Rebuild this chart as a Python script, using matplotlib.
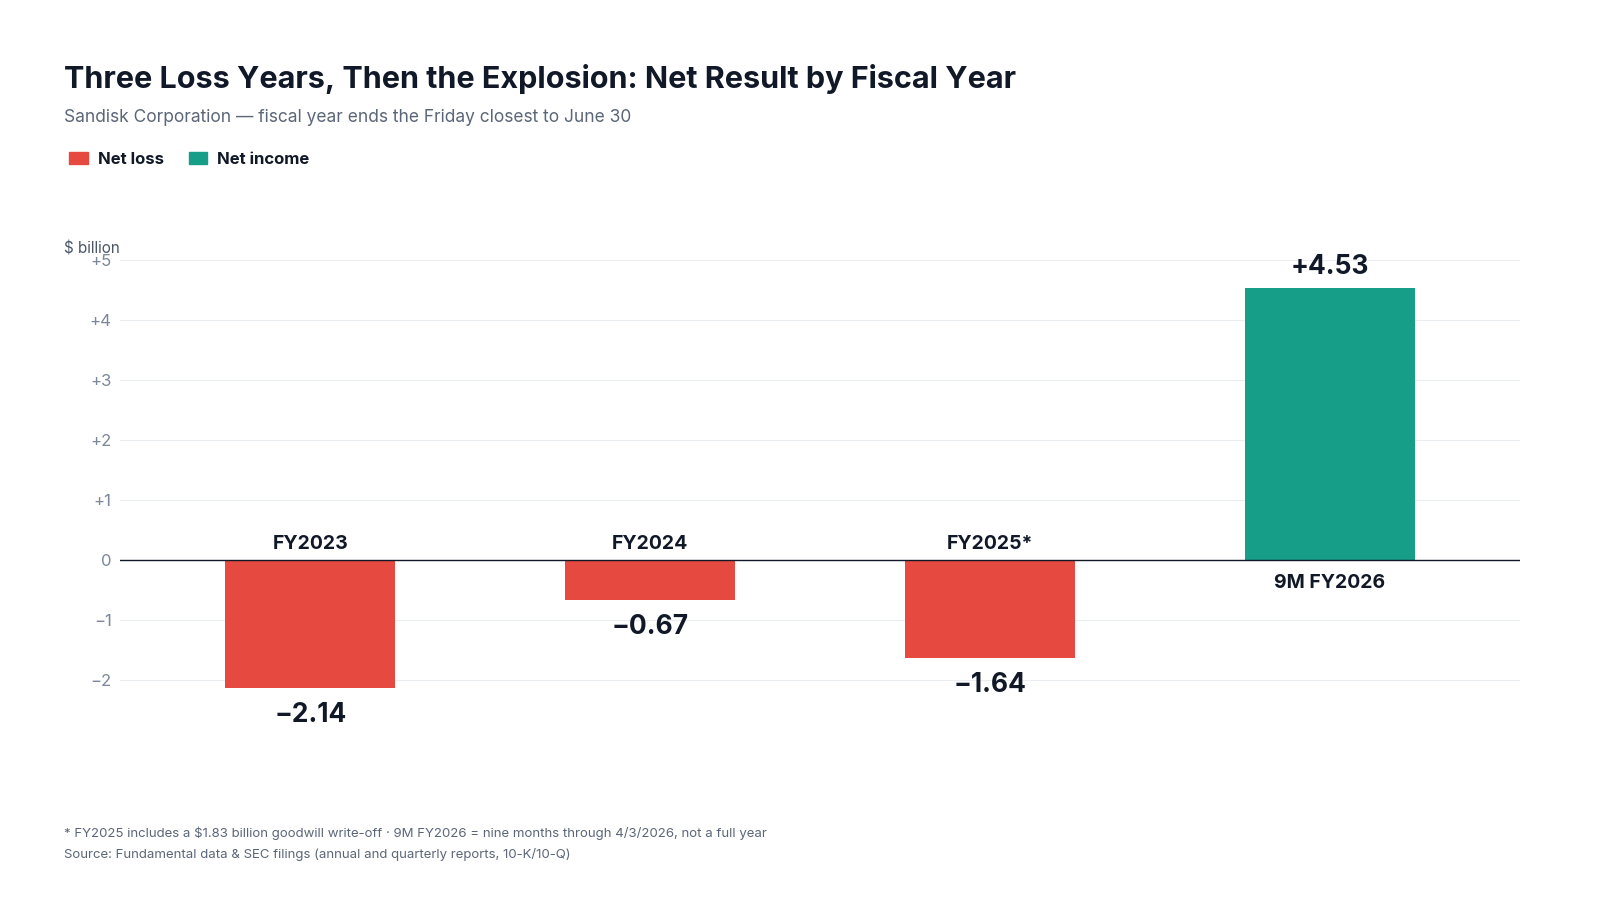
import matplotlib.pyplot as plt
from matplotlib.patches import Patch

plt.rcParams['font.family'] = ['Inter', 'DejaVu Sans']

categories = ["FY2023", "FY2024", "FY2025*", "9M FY2026"]
values = [-2.14, -0.67, -1.64, 4.53]
yticks = [-2, -1, 0, 1, 2, 3, 4, 5]
ytick_labels = ["\u22122", "\u22121", "0", "+1", "+2", "+3", "+4", "+5"]

RED = "#e5493f"
GREEN = "#169e88"
DARK = "#111827"
GREY = "#7c8799"

fig = plt.figure(figsize=(16, 9), dpi=100)
ax = fig.add_axes([0.075, 0.205, 0.875, 0.506])

x = range(len(categories))
colors = [RED if v < 0 else GREEN for v in values]
ax.bar(x, values, width=0.5, color=colors, zorder=3)
ax.set_xlim(-0.56, 3.56)
ax.set_ylim(-2.6, 5)
ax.axhline(0, color=DARK, lw=1, zorder=4)

for i, v in enumerate(values):
    vs = ("+%.2f" % v) if v > 0 else ("\u2212%.2f" % abs(v))
    if v < 0:
        ax.annotate(categories[i], (i, 0), xytext=(0, 5), textcoords="offset points",
                    ha="center", va="bottom", fontsize=14, fontweight="bold", color=DARK)
        ax.annotate(vs, (i, v), xytext=(0, -10), textcoords="offset points",
                    ha="center", va="top", fontsize=19, fontweight="bold", color=DARK,
                    annotation_clip=False)
    else:
        ax.annotate(categories[i], (i, 0), xytext=(0, -10), textcoords="offset points",
                    ha="center", va="top", fontsize=14, fontweight="bold", color=DARK)
        ax.annotate(vs, (i, v), xytext=(0, 6), textcoords="offset points",
                    ha="center", va="bottom", fontsize=19, fontweight="bold", color=DARK)

ax.set_yticks(yticks)
ax.set_yticklabels(ytick_labels, fontsize=12, color=GREY)
ax.set_xticks([])
ax.tick_params(axis="y", length=0, pad=6)
ax.grid(axis="y", color="#ebedf0", lw=0.8, zorder=0)
for s in ax.spines.values():
    s.set_visible(False)

fig.text(0.04, 0.718, "$ billion", fontsize=11, color="#4b5568")
fig.text(0.04, 0.902, "Three Loss Years, Then the Explosion: Net Result by Fiscal Year",
         fontsize=22, fontweight="bold", color=DARK)
fig.text(0.04, 0.865, "Sandisk Corporation \u2014 fiscal year ends the Friday closest to June 30",
         fontsize=12.5, color="#5b6678")
leg = fig.legend(handles=[Patch(color=RED, label="Net loss"), Patch(color=GREEN, label="Net income")],
                 loc="upper left", bbox_to_anchor=(0.034, 0.848), ncol=2, frameon=False,
                 handlelength=1.1, handleheight=0.7, columnspacing=1.5, handletextpad=0.6,
                 prop={"size": 12, "weight": "bold"})
for t in leg.get_texts():
    t.set_color(DARK)
fig.text(0.04, 0.07, "* FY2025 includes a $1.83 billion goodwill write-off \u00b7 9M FY2026 = nine months through 4/3/2026, not a full year",
         fontsize=9.5, color="#5b6678")
fig.text(0.04, 0.047, "Source: Fundamental data & SEC filings (annual and quarterly reports, 10-K/10-Q)",
         fontsize=9.5, color="#5b6678")

fig.savefig("out.png")
